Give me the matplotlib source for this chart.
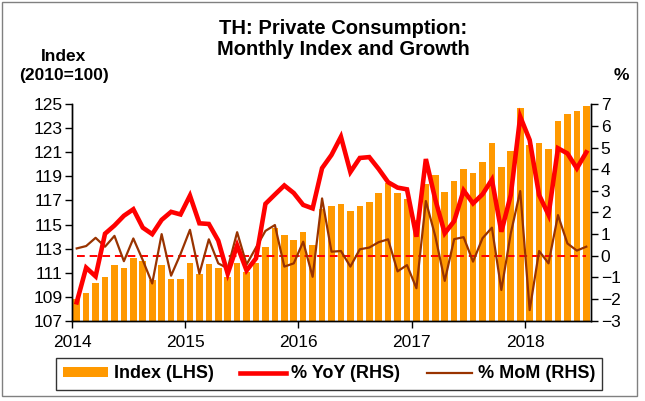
import numpy as np
import matplotlib
matplotlib.use("Agg")
import matplotlib.pyplot as plt
from matplotlib.patches import Patch, Rectangle
from matplotlib.lines import Line2D

plt.rcParams['font.family'] = ['Liberation Sans', 'DejaVu Sans']

# Monthly data, Jan 2014 - Jul 2018
years = ['2014', '2015', '2016', '2017', '2018']

index_vals = [108.8, 109.3, 110.15, 110.6, 111.6, 111.35, 112.2, 111.95, 110.4, 111.6,
              110.5, 110.5, 111.8, 110.9, 111.7, 111.35, 110.6, 111.8, 111.05, 111.8,
              113.1, 114.7, 114.1, 113.7, 114.4, 113.3, 116.3, 116.5, 116.7, 116.1,
              116.5, 116.9, 117.6, 118.45, 117.6, 117.15, 115.4, 118.35, 119.1, 117.7,
              118.6, 119.6, 119.25, 120.2, 121.75, 119.8, 121.1, 124.7, 121.6, 121.8,
              121.3, 123.6, 124.2, 124.45, 124.9]

yoy = [-2.15, -0.55, -0.95, 1.02, 1.4, 1.85, 2.15, 1.3, 1.0, 1.66,
       2.03, 1.91, 2.78, 1.5, 1.47, 0.7, -0.83, 0.48, -0.68, -0.12,
       2.4, 2.83, 3.25, 2.9, 2.35, 2.19, 4.05, 4.66, 5.5, 3.87,
       4.52, 4.56, 4.01, 3.4, 3.15, 3.07, 0.88, 4.47, 2.6, 1.04,
       1.6, 3.02, 2.42, 2.84, 3.52, 1.11, 2.81, 6.43, 5.35, 2.81,
       1.89, 4.97, 4.73, 4.04, 4.78]

mom = [0.34, 0.45, 0.83, 0.42, 0.92, -0.25, 0.8, -0.2, -1.28, 1.0,
       -0.92, 0.08, 1.2, -0.83, 0.76, -0.35, -0.58, 1.09, -0.4, 0.38,
       1.15, 1.42, -0.5, -0.35, 0.65, -0.97, 2.65, 0.19, 0.22, -0.5,
       0.3, 0.38, 0.63, 0.76, -0.72, -0.43, -1.5, 2.53, 0.9, -1.16,
       0.77, 0.86, -0.27, 0.81, 1.3, -1.58, 1.04, 2.99, -2.51, 0.22,
       -0.35, 1.88, 0.57, 0.24, 0.42]

n = len(index_vals)
x = np.arange(n) + 0.5

W, H = 645, 401
fig = plt.figure(figsize=(W / 100, H / 100), dpi=100)
ax = fig.add_axes([72 / W, 1 - 320.7 / H, (591 - 72) / W, (320.7 - 104.3) / H])
ax2 = ax.twinx()

# bars on the left axis
ax.bar(x, index_vals, width=0.7, color='#FF9900', zorder=2)
ax.set_ylim(107, 125)
ax.set_yticks(np.arange(107, 126, 2))
ax.set_xlim(0, n)
ax.set_xticks(np.arange(0, n, 12))
ax.set_xticklabels(years)

# lines on the right axis
ax2.plot(x, np.zeros(n), color='#FF0000', lw=1.4, ls=(0, (4, 2.5)), zorder=2)
ax2.plot(x, mom, color='#993300', lw=1.6, zorder=3)
ax2.plot(x, yoy, color='#FF0000', lw=3.3, zorder=4, solid_joinstyle='miter')
ax2.set_ylim(-3, 7)
ax2.set_yticks(np.arange(-3, 8, 1))

for a in (ax, ax2):
    a.spines['top'].set_visible(False)
    for s in ('left', 'right', 'bottom'):
        a.spines[s].set_linewidth(1.0)
    a.tick_params(direction='out', length=5, width=1, labelsize=12.5, pad=2)
ax.tick_params(axis='x', pad=5)

fig.text(343 / W, 1 - 39 / H, 'TH: Private Consumption:\nMonthly Index and Growth',
         ha='center', va='center', fontsize=14.5, fontweight='bold', linespacing=1.15)
fig.text(64 / W, 1 - 66 / H, 'Index\n(2010=100)', ha='center', va='center',
         fontsize=12.5, fontweight='bold', linespacing=1.3)
fig.text(621 / W, 1 - 76 / H, '%', ha='center', va='center',
         fontsize=12.5, fontweight='bold')

handles = [Patch(facecolor='#FF9900', edgecolor='none'),
           Line2D([], [], color='#FF0000', lw=3.3),
           Line2D([], [], color='#993300', lw=1.6)]
labels = ['Index (LHS)', '% YoY (RHS)', '% MoM (RHS)']
leg = fig.legend(handles, labels, loc='center', bbox_to_anchor=(329 / W, 1 - 374 / H),
                 ncol=3, frameon=True, fancybox=False, handlelength=2.5,
                 handleheight=0.5, handletextpad=0.3, columnspacing=1.5,
                 borderpad=0.4, prop={'weight': 'bold', 'size': 13})
leg.get_frame().set_edgecolor('black')
leg.get_frame().set_linewidth(1.0)

fig.patches.append(Rectangle((2 / W, 5 / H), 635 / W, 394 / H, transform=fig.transFigure,
                             fill=False, edgecolor='#808080', lw=1))

fig.savefig('out.png', dpi=100)
